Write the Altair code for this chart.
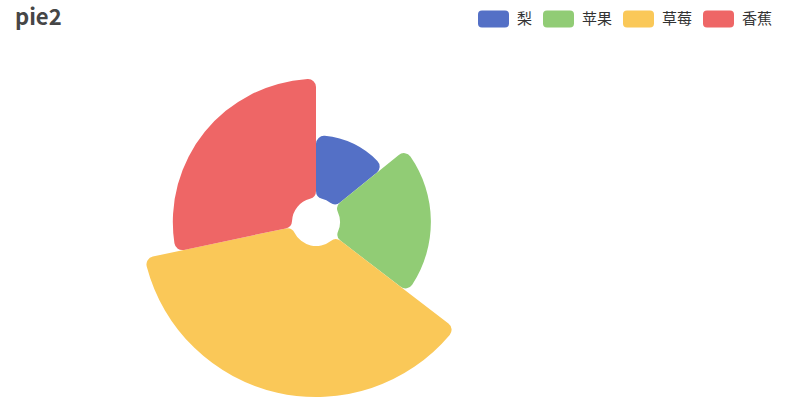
import altair as alt
import pandas as pd

categories = ["梨", "苹果", "草莓", "香蕉"]
values = [16, 24, 41, 32]
colors = ["#5470c6", "#91cc75", "#fac858", "#ee6666"]

df = pd.DataFrame({"name": categories, "value": values, "order": list(range(len(categories)))})

rrect = ("M-0.74,-0.55 L0.74,-0.55 Q1,-0.55 1,-0.29 L1,0.29 Q1,0.55 0.74,0.55 "
         "L-0.74,0.55 Q-1,0.55 -1,0.29 L-1,-0.29 Q-1,-0.55 -0.74,-0.55 Z")

chart = alt.Chart(df).mark_arc(innerRadius=24, cornerRadius=8, stroke=None).encode(
    theta=alt.Theta("value:Q", stack=True),
    radius=alt.Radius("value:Q", scale=alt.Scale(type="linear", domain=[0, 41], range=[30, 175], zero=True)),
    color=alt.Color("name:N", scale=alt.Scale(domain=categories, range=colors),
                    sort=categories,
                    legend=alt.Legend(orient="none", legendX=478, legendY=3, direction="horizontal",
                                      title=None, symbolType=rrect, symbolSize=961,
                                      symbolStrokeWidth=0, symbolOpacity=1,
                                      labelFont="Noto Sans CJK SC", labelFontSize=15,
                                      labelColor="#333333", labelOffset=8,
                                      columnPadding=10)),
    order=alt.Order("order:Q"),
    x=alt.value(316),
    y=alt.value(222),
).properties(
    width=804, height=414, autosize="none", padding=0,
    title=alt.TitleParams("pie2", anchor="start", frame="group", dx=15, dy=51,
                          font="Noto Sans CJK SC", fontSize=22, fontWeight="bold",
                          color="#464646", baseline="alphabetic"),
).configure_view(stroke=None)

chart.save("out.html", embed_options={"renderer": "svg", "actions": False})
